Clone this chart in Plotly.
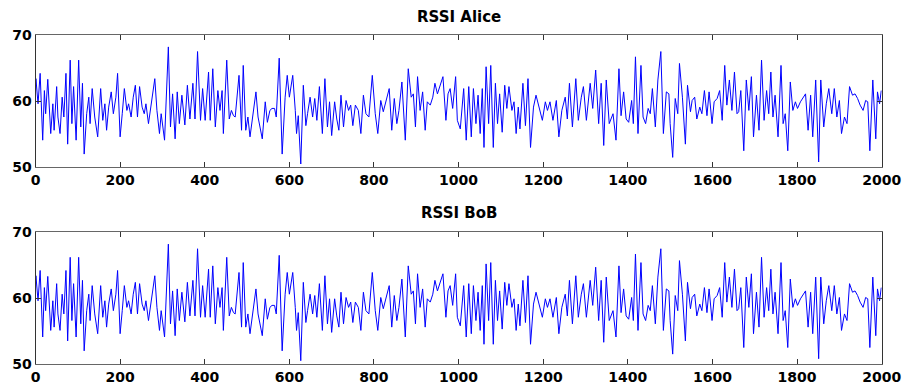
import plotly.graph_objects as go
from plotly.subplots import make_subplots

# ---- data (sample index, RSSI) ----
alice_idx = [0, 1, 6, 11, 17, 21, 24, 29, 36, 41, 44, 50, 53, 58, 63, 67, 72, 76, 82, 86, 90, 96, 102, 107, 111, 115,
             121, 126, 129, 134, 140, 147, 154, 159, 164, 168, 173, 179, 184, 190, 194, 200, 205, 210, 216, 220, 226,
             231, 236, 241, 246, 252, 257, 261, 267, 272, 282, 287, 293, 297, 305, 314, 319, 324, 330, 335, 340, 346,
             353, 359, 365, 372, 377, 383, 390, 395, 401, 409, 413, 419, 425, 431, 436, 441, 444, 452, 458, 463, 468,
             472, 481, 487, 491, 497, 502, 507, 521, 526, 531, 536, 543, 548, 554, 559, 565, 569, 576, 583, 590, 595,
             600, 608, 614, 617, 621, 627, 633, 639, 643, 649, 655, 660, 665, 671, 678, 684, 690, 695, 700, 707, 712,
             717, 722, 728, 734, 740, 745, 750, 756, 763, 769, 775, 781, 788, 796, 803, 809, 816, 822, 829, 836, 842,
             848, 854, 859, 866, 874, 881, 888, 893, 898, 903, 909, 915, 921, 926, 933, 939, 944, 950, 956, 963, 970,
             975, 980, 986, 993, 997, 1004, 1012, 1018, 1024, 1030, 1035, 1041, 1046, 1051, 1056, 1060, 1065, 1071,
             1076, 1082, 1087, 1092, 1097, 1103, 1109, 1114, 1119, 1126, 1131, 1136, 1141, 1145, 1152, 1158, 1164,
             1170, 1177, 1183, 1190, 1198, 1205, 1210, 1216, 1223, 1231, 1237, 1244, 1252, 1257, 1262, 1269, 1277,
             1283, 1290, 1295, 1302, 1311, 1317, 1324, 1331, 1337, 1343, 1349, 1356, 1365, 1372, 1379, 1384, 1390,
             1396, 1402, 1409, 1413, 1418, 1424, 1431, 1436, 1442, 1448, 1453, 1458, 1465, 1471, 1478, 1484, 1491,
             1497, 1500, 1506, 1512, 1518, 1522, 1529, 1536, 1541, 1548, 1552, 1558, 1563, 1570, 1575, 1581, 1587,
             1592, 1599, 1604, 1611, 1617, 1623, 1629, 1634, 1640, 1646, 1652, 1658, 1662, 1667, 1674, 1680, 1686,
             1692, 1697, 1704, 1710, 1716, 1722, 1728, 1733, 1738, 1743, 1748, 1755, 1762, 1767, 1772, 1778, 1784,
             1790, 1796, 1801, 1808, 1814, 1820, 1826, 1832, 1837, 1844, 1851, 1856, 1863, 1869, 1875, 1882, 1888,
             1894, 1900, 1905, 1912, 1918, 1924, 1931, 1937, 1943, 1949, 1956, 1962, 1967, 1972, 1979, 1986, 1990,
             1995, 1999]
alice_rssi = [61.5, 63.4, 59.6, 64.2, 54.1, 61.6, 58.1, 63.3, 55.1, 59.6, 55.6, 62.2, 57.6, 55.1, 60.6, 57.6, 64.2,
              53.5, 66.2, 56.6, 62.2, 54.1, 66.2, 56.1, 62.7, 52.0, 58.1, 60.6, 56.6, 61.9, 57.6, 54.6, 61.9, 57.1,
              59.6, 55.6, 59.1, 61.4, 58.1, 60.6, 64.2, 54.6, 58.1, 61.9, 58.6, 59.6, 57.6, 60.6, 62.4, 57.6, 62.2,
              59.1, 58.1, 59.6, 56.6, 59.1, 63.4, 58.6, 55.1, 58.1, 54.1, 68.2, 56.1, 61.1, 54.3, 61.4, 56.6, 60.9,
              56.4, 62.4, 57.3, 62.7, 57.3, 67.5, 57.1, 61.9, 57.1, 64.4, 57.1, 64.9, 56.1, 61.6, 58.6, 61.6, 55.1,
              66.2, 57.3, 58.6, 57.8, 57.6, 63.9, 55.6, 65.4, 55.6, 57.6, 54.6, 61.4, 57.6, 56.1, 54.3, 59.9, 56.8,
              58.6, 58.9, 58.9, 57.6, 66.5, 52.0, 60.6, 63.9, 60.6, 63.9, 58.6, 55.1, 57.8, 50.5, 62.4, 56.3, 58.1,
              60.6, 57.6, 60.4, 57.1, 62.2, 55.1, 63.4, 56.1, 59.9, 54.8, 59.9, 57.3, 55.6, 60.9, 56.1, 60.1, 58.6,
              59.4, 56.3, 59.4, 58.6, 55.1, 60.9, 58.1, 57.6, 63.9, 58.1, 55.1, 60.1, 58.4, 60.4, 61.9, 55.6, 60.4,
              56.6, 58.6, 62.9, 54.1, 64.9, 60.6, 61.1, 56.1, 63.7, 58.6, 61.4, 55.6, 59.9, 59.4, 60.6, 62.7, 61.1,
              62.4, 63.7, 57.1, 61.1, 61.9, 58.9, 63.7, 57.1, 55.8, 61.9, 54.1, 62.2, 54.6, 61.9, 56.6, 60.9, 55.1,
              61.9, 53.0, 65.2, 56.6, 65.4, 53.0, 62.7, 56.6, 61.1, 55.3, 62.4, 58.9, 62.2, 58.6, 59.9, 55.1, 59.1,
              55.8, 62.7, 56.3, 63.4, 53.0, 59.1, 60.9, 59.1, 57.1, 59.9, 58.6, 59.9, 57.1, 60.1, 54.6, 58.6, 60.6,
              57.3, 62.7, 56.1, 63.4, 57.1, 60.6, 62.2, 57.1, 62.7, 58.9, 64.7, 56.6, 62.7, 53.3, 63.2, 56.6, 58.1,
              54.1, 64.9, 57.8, 61.4, 57.3, 56.8, 60.1, 56.6, 66.7, 55.1, 65.4, 57.6, 56.6, 58.9, 58.1, 61.9, 56.1,
              63.2, 67.5, 55.1, 61.4, 61.1, 56.6, 51.5, 60.4, 58.1, 65.7, 60.6, 53.5, 62.4, 58.4, 60.1, 60.6, 57.3,
              59.1, 58.1, 61.6, 57.8, 61.4, 56.6, 59.9, 60.4, 61.6, 57.1, 65.4, 59.4, 63.2, 58.6, 64.4, 58.1, 58.4,
              61.6, 52.5, 63.2, 58.6, 63.7, 54.6, 60.9, 55.6, 66.2, 57.1, 61.6, 58.1, 64.4, 57.6, 60.9, 54.6, 65.4,
              56.6, 58.1, 52.5, 62.9, 58.6, 59.9, 58.9, 59.9, 60.6, 61.1, 55.6, 60.9, 54.6, 63.2, 50.8, 63.2, 56.1,
              59.6, 61.9, 58.1, 61.9, 57.6, 60.1, 55.1, 57.6, 56.6, 62.2, 60.9, 61.1, 60.4, 59.4, 58.6, 60.1, 59.9,
              52.5, 63.2, 54.3, 61.4, 59.6, 61.6]

# Bob's trace is visually the same as Alice's in the reference
bob_idx = list(alice_idx)
bob_rssi = list(alice_rssi)

x_ticks = [0, 200, 400, 600, 800, 1000, 1200, 1400, 1600, 1800, 2000]
y_ticks = [50, 60, 70]
titles = ["RSSI Alice", "RSSI BoB"]

W, H = 904, 387
fig = make_subplots(rows=2, cols=1)
fig.add_trace(go.Scatter(x=alice_idx, y=alice_rssi, mode="lines",
                         line=dict(color="#0000ff", width=1), showlegend=False), row=1, col=1)
fig.add_trace(go.Scatter(x=bob_idx, y=bob_rssi, mode="lines",
                         line=dict(color="#0000ff", width=1), showlegend=False), row=2, col=1)

xdom = [35.5 / W, 881.7 / W]
ydoms = [[1 - 167.3 / H, 1 - 35 / H], [1 - 364 / H, 1 - 232.3 / H]]
tickfont = dict(family="DejaVu Sans", size=14, color="black", weight="bold")
for i, (xa, ya) in enumerate([("xaxis", "yaxis"), ("xaxis2", "yaxis2")]):
    fig.layout[xa].update(domain=xdom, range=[0, 2000], tickvals=x_ticks, ticks="inside", ticklen=5,
                          tickcolor="#333", showline=True, linecolor="#666", linewidth=1, mirror="ticks",
                          showgrid=False, zeroline=False, tickfont=tickfont, automargin=False)
    fig.layout[ya].update(domain=ydoms[i], range=[50, 70], tickvals=y_ticks, ticks="inside", ticklen=5,
                          tickcolor="#333", showline=True, linecolor="#333", linewidth=1, mirror="ticks",
                          showgrid=False, zeroline=False, tickfont=tickfont, automargin=False)

ann_y = [1 - 17 / H, 1 - 213 / H]
for t, yy in zip(titles, ann_y):
    fig.add_annotation(text="<b>" + t + "</b>", x=(xdom[0] + xdom[1]) / 2, y=yy, xref="paper", yref="paper",
                       showarrow=False, font=dict(family="DejaVu Sans", size=15, color="black"),
                       xanchor="center", yanchor="middle")

fig.update_layout(width=W, height=H, margin=dict(l=0, r=0, t=0, b=0),
                  paper_bgcolor="white", plot_bgcolor="white")
fig.write_html("out.html", config={"displayModeBar": False},
               post_script="document.body.style.margin='0';document.body.style.overflow='hidden';")
